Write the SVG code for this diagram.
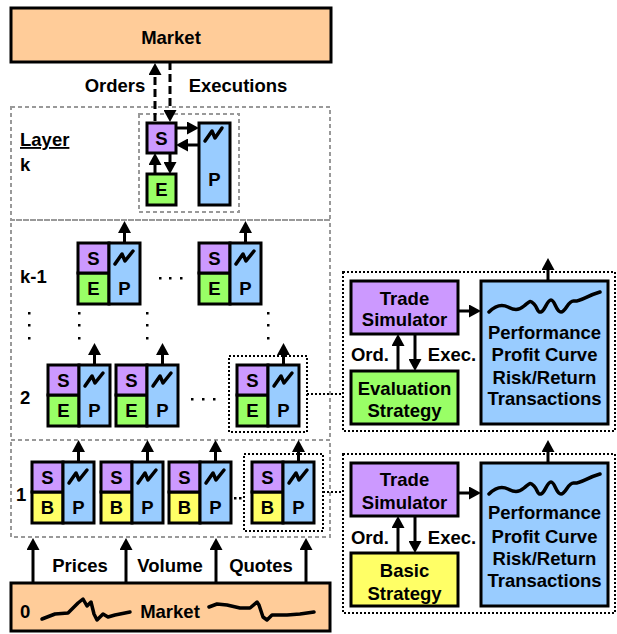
<svg xmlns="http://www.w3.org/2000/svg" width="617" height="634" viewBox="0 0 617 634">
  <defs>
    <marker id="ah" markerUnits="userSpaceOnUse" markerWidth="12" markerHeight="13" viewBox="0 0 12 13" refX="4" refY="6.5" orient="auto">
      <path d="M0,0 L12,6.5 L0,13 z" fill="#000"/>
    </marker>
    <g id="node">
      <rect class="s" x="0" y="0" width="31" height="30"/>
      <rect class="p" x="31" y="0" width="31" height="61"/>
      <text class="t" x="15.5" y="21.5">S</text>
      <text class="t" x="46.5" y="52">P</text>
      <path class="zig" d="M37,21 L44,11 L47,18 L55,8"/>
    </g>
  </defs>
  <style>
    .t { font-family: "Liberation Sans", Arial, sans-serif; font-weight: bold; font-size: 18.5px; text-anchor: middle; fill: #000; }
    .l { text-anchor: start; }
    .s { fill: #CC99FF; stroke: #000; stroke-width: 3; }
    .e { fill: #99FF66; stroke: #000; stroke-width: 3; }
    .b { fill: #FFFF66; stroke: #000; stroke-width: 3; }
    .p { fill: #99CCFF; stroke: #000; stroke-width: 3; }
    .mk { fill: #FFCC99; stroke: #000; stroke-width: 3; }
    .zig { fill: none; stroke: #000; stroke-width: 3.5; stroke-linecap: round; stroke-linejoin: round; }
    .layer { fill: none; stroke: #999; stroke-width: 2; stroke-dasharray: 4 3; }
    .dot { fill: none; stroke: #000; stroke-width: 2; stroke-dasharray: 2 2; }
    .arr { fill: none; stroke: #000; stroke-width: 3; marker-end: url(#ah); }
    .dash { stroke-dasharray: 8 4; }
    .pt { fill: #000; }
  </style>

  <!-- layer frames -->
  <g id="layers">
    <rect class="layer" x="11" y="107" width="319" height="113"/>
    <rect class="layer" x="11" y="220" width="319" height="220"/>
    <rect class="layer" x="11" y="440" width="319" height="97"/>
    <rect class="layer" x="139" y="114" width="100" height="98"/>
    <rect class="dot" x="229" y="356" width="78" height="76"/>
    <rect class="dot" x="244" y="454" width="79" height="77"/>
  </g>

  <!-- layer labels -->
  <g id="labels">
    <text class="t l" x="20" y="146" text-decoration="underline">Layer</text>
    <text class="t l" x="20" y="171">k</text>
    <text class="t l" x="20" y="283">k-1</text>
    <text class="t l" x="20" y="404">2</text>
    <text class="t l" x="16" y="501">1</text>
  </g>

  <!-- top market -->
  <g id="market-top">
    <rect class="mk" x="11" y="8" width="320" height="54"/>
    <text class="t" x="171" y="43.5">Market</text>
  </g>

  <!-- bottom market -->
  <g id="market-bottom">
    <rect class="mk" x="11" y="583" width="319" height="48"/>
    <text class="t l" x="20" y="618">0</text>
    <text class="t" x="170" y="618">Market</text>
    <path class="zig" d="M42,619 L55,614 L68,613 L78,603 L83,599 L87,606 L91,602 L94,614 L97,620 L103,614 L108,617 L115,615 L130,612"/>
    <path class="zig" d="M209,607 L217,604 L227,605 L240,608 L250,608 L257,602 L259,605 L263,617 L267,620 L272,615 L287,615 L300,614 L314,612"/>
  </g>

  <!-- layer k agent -->
  <g id="agent-k">
    <rect class="s" x="147" y="123" width="29" height="30"/>
    <rect class="e" x="147" y="174" width="29" height="31"/>
    <rect class="p" x="199" y="123" width="31" height="82"/>
    <text class="t" x="161.5" y="144.5">S</text>
    <text class="t" x="161.5" y="196">E</text>
    <text class="t" x="214.5" y="186">P</text>
    <path class="zig" d="M205,141 L212,131 L215,138 L222,128"/>
  </g>

  <!-- layer k-1 agents -->
  <g id="agent-k1-a" transform="translate(78,243)"><rect class="e" x="0" y="30" width="31" height="31"/><use href="#node"/><text class="t" x="15.5" y="52">E</text></g>
  <g id="agent-k1-b" transform="translate(199,243)"><rect class="e" x="0" y="30" width="31" height="31"/><use href="#node"/><text class="t" x="15.5" y="52">E</text></g>

  <!-- layer 2 agents -->
  <g id="agent-2a" transform="translate(48,365)"><rect class="e" x="0" y="30" width="31" height="31"/><use href="#node"/><text class="t" x="15.5" y="52">E</text></g>
  <g id="agent-2b" transform="translate(116,365)"><rect class="e" x="0" y="30" width="31" height="31"/><use href="#node"/><text class="t" x="15.5" y="52">E</text></g>
  <g id="agent-2c" transform="translate(237,365)"><rect class="e" x="0" y="30" width="31" height="31"/><use href="#node"/><text class="t" x="15.5" y="52">E</text></g>

  <!-- layer 1 agents -->
  <g id="agent-1a" transform="translate(32,462)"><rect class="b" x="0" y="30" width="31" height="31"/><use href="#node"/><text class="t" x="15.5" y="52">B</text></g>
  <g id="agent-1b" transform="translate(101,462)"><rect class="b" x="0" y="30" width="31" height="31"/><use href="#node"/><text class="t" x="15.5" y="52">B</text></g>
  <g id="agent-1c" transform="translate(169,462)"><rect class="b" x="0" y="30" width="31" height="31"/><use href="#node"/><text class="t" x="15.5" y="52">B</text></g>
  <g id="agent-1d" transform="translate(252,462)"><rect class="b" x="0" y="30" width="31" height="31"/><use href="#node"/><text class="t" x="15.5" y="52">B</text></g>

  <!-- ellipses -->
  <g id="ellipses" class="pt">
    <rect x="159" y="277" width="2.5" height="2.5"/><rect x="169" y="277" width="2.5" height="2.5"/><rect x="180" y="277" width="2.5" height="2.5"/>
    <rect x="191" y="398" width="2.5" height="2.5"/><rect x="202" y="398" width="2.5" height="2.5"/><rect x="213" y="398" width="2.5" height="2.5"/>
    <rect x="234" y="497" width="2.5" height="2.5"/><rect x="239" y="497" width="2.5" height="2.5"/>
    <rect x="28" y="312" width="2.5" height="2.5"/><rect x="28" y="324" width="2.5" height="2.5"/><rect x="28" y="337" width="2.5" height="2.5"/>
    <rect x="78" y="312" width="2.5" height="2.5"/><rect x="78" y="324" width="2.5" height="2.5"/><rect x="78" y="337" width="2.5" height="2.5"/>
    <rect x="146" y="312" width="2.5" height="2.5"/><rect x="146" y="324" width="2.5" height="2.5"/><rect x="146" y="337" width="2.5" height="2.5"/>
    <rect x="267" y="312" width="2.5" height="2.5"/><rect x="267" y="324" width="2.5" height="2.5"/><rect x="267" y="337" width="2.5" height="2.5"/>
  </g>

  <!-- evaluation panel -->
  <g id="eval-panel">
    <rect class="dot" x="343" y="272" width="272" height="159"/>
    <rect class="s" x="351" y="281" width="107" height="53"/>
    <text class="t" x="404.5" y="304.5">Trade</text>
    <text class="t" x="404.5" y="325.5">Simulator</text>
    <rect class="e" x="351" y="371" width="107" height="53"/>
    <text class="t" x="404.5" y="394.5">Evaluation</text>
    <text class="t" x="404.5" y="416.5">Strategy</text>
    <text class="t" x="370" y="360.5">Ord.</text>
    <text class="t" x="452" y="360.5">Exec.</text>
    <rect class="p" x="481" y="281" width="127" height="143"/>
    <path class="zig" d="M489,312 C495,306 502,304 508,307 S518,311 524,306 S530,300 534,304 S537,313 541,312 S547,300 551,300 S556,312 561,312 S568,300 574,301 S586,296 600,292"/>
    <text class="t" x="544.5" y="338.5">Performance</text>
    <text class="t" x="544.5" y="360.5">Profit Curve</text>
    <text class="t" x="544.5" y="383.5">Risk/Return</text>
    <text class="t" x="544.5" y="404.5">Transactions</text>
  </g>

  <!-- basic panel -->
  <g id="basic-panel">
    <rect class="dot" x="343" y="454" width="272" height="159"/>
    <rect class="s" x="351" y="463" width="107" height="53"/>
    <text class="t" x="404.5" y="485.5">Trade</text>
    <text class="t" x="404.5" y="508.5">Simulator</text>
    <rect class="b" x="351" y="553" width="107" height="53"/>
    <text class="t" x="404.5" y="576.5">Basic</text>
    <text class="t" x="404.5" y="599.5">Strategy</text>
    <text class="t" x="370" y="543.5">Ord.</text>
    <text class="t" x="452" y="543.5">Exec.</text>
    <rect class="p" x="481" y="463" width="127" height="143"/>
    <path class="zig" transform="translate(0,182)" d="M489,312 C495,306 502,304 508,307 S518,311 524,306 S530,300 534,304 S537,313 541,312 S547,300 551,300 S556,312 561,312 S568,300 574,301 S586,296 600,292"/>
    <text class="t" x="544.5" y="518.5">Performance</text>
    <text class="t" x="544.5" y="542.5">Profit Curve</text>
    <text class="t" x="544.5" y="564.5">Risk/Return</text>
    <text class="t" x="544.5" y="586.5">Transactions</text>
  </g>

  <!-- connectors -->
  <g id="connectors">
    <!-- orders / executions with the market -->
    <line class="arr dash" x1="155" y1="121" x2="155" y2="71"/>
    <line class="arr dash" x1="170" y1="62" x2="170" y2="114"/>
    <text class="t" x="115" y="92">Orders</text>
    <text class="t" x="238" y="92">Executions</text>
    <!-- inside layer k -->
    <line class="arr" x1="176" y1="128" x2="191" y2="128"/>
    <line class="arr" x1="199" y1="145" x2="184" y2="145"/>
    <line class="arr" x1="170" y1="153" x2="170" y2="166"/>
    <line class="arr" x1="155" y1="174" x2="155" y2="161"/>
    <!-- upward outputs -->
    <line class="arr" x1="124.5" y1="243" x2="124.5" y2="229"/>
    <line class="arr" x1="245.5" y1="243" x2="245.5" y2="229"/>
    <line class="arr" x1="94.5" y1="365" x2="94.5" y2="351"/>
    <line class="arr" x1="162.5" y1="365" x2="162.5" y2="351"/>
    <line class="arr" x1="283.5" y1="365" x2="283.5" y2="351"/>
    <line class="arr" x1="78.5" y1="462" x2="78.5" y2="448"/>
    <line class="arr" x1="147.5" y1="462" x2="147.5" y2="448"/>
    <line class="arr" x1="215.5" y1="462" x2="215.5" y2="448"/>
    <line class="arr" x1="298.5" y1="462" x2="298.5" y2="448"/>
    <!-- market data feeds -->
    <line class="arr" x1="33" y1="583" x2="33" y2="546"/>
    <line class="arr" x1="126" y1="583" x2="126" y2="546"/>
    <line class="arr" x1="216" y1="583" x2="216" y2="546"/>
    <line class="arr" x1="306" y1="583" x2="306" y2="546"/>
    <text class="t" x="80" y="572">Prices</text>
    <text class="t" x="170" y="572">Volume</text>
    <text class="t" x="261" y="572">Quotes</text>
    <!-- detail links -->
    <line class="dot" x1="307" y1="394" x2="343" y2="394"/>
    <line class="dot" x1="323" y1="492" x2="343" y2="492"/>
    <!-- panel internals -->
    <line class="arr" x1="458" y1="311" x2="473" y2="311"/>
    <line class="arr" x1="398" y1="371" x2="398" y2="342"/>
    <line class="arr" x1="415" y1="334" x2="415" y2="363"/>
    <line class="arr" x1="548" y1="281" x2="548" y2="266"/>
    <line class="arr" x1="458" y1="493" x2="473" y2="493"/>
    <line class="arr" x1="398" y1="553" x2="398" y2="524"/>
    <line class="arr" x1="415" y1="516" x2="415" y2="545"/>
    <line class="arr" x1="548" y1="463" x2="548" y2="448"/>
  </g>
</svg>
